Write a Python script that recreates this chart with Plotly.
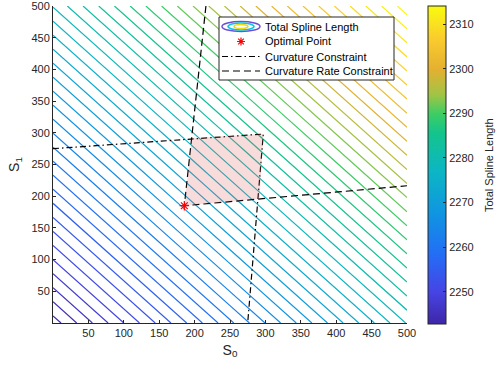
import plotly.graph_objects as go

# ---- data ----
s0_grid = [0, 250, 500]
s1_grid = [0, 250, 500]
# Total spline length on the coarse grid (rows = S1, cols = S0)
total_length = [
    [2242.8, 2260.6, 2278.5],
    [2260.6, 2278.5, 2296.3],
    [2278.5, 2296.3, 2314.1],
]
length_min = 2242.8
length_max = 2314.1
opt_s0 = [185.5]
opt_s1 = [185.0]
curv_s0 = [0, 297, 275]
curv_s1 = [275, 298, 0]
rate_s0 = [216, 185.5, 500]
rate_s1 = [500, 185, 216.5]
region_s0 = [185.5, 196.3, 297, 291.8, 185.5]
region_s1 = [185.0, 291.8, 298, 196.0, 185.0]
axis_ticks = [50, 100, 150, 200, 250, 300, 350, 400, 450, 500]
cbar_ticks = [2250, 2260, 2270, 2280, 2290, 2300, 2310]
legend_labels = ["Total Spline Length", "Optimal Point",
                 "Curvature Constraint", "Curvature Rate Constraint"]

parula = [
    [0.00, "rgb(62,38,168)"],
    [0.10, "rgb(70,68,228)"],
    [0.22, "rgb(35,110,245)"],
    [0.35, "rgb(15,150,225)"],
    [0.48, "rgb(12,182,196)"],
    [0.60, "rgb(20,196,140)"],
    [0.66, "rgb(60,205,100)"],
    [0.72, "rgb(160,196,70)"],
    [0.80, "rgb(228,176,48)"],
    [0.90, "rgb(250,205,45)"],
    [1.00, "rgb(249,251,14)"],
]

font = "Liberation Sans, Arial, Helvetica, sans-serif"
txt = "#262626"
DASHDOT = "6px,3px,1.5px,3px"
DASH = "7px,4px"

W, H = 498, 371
ML, MR, MT, MB = 53, 91, 6, 48
PW, PH = W - ML - MR, H - MT - MB


def px_x(p):  # page pixel -> paper x
    return (p - ML) / PW


def px_y(p):  # page pixel -> paper y
    return (H - MB - p) / PH


fig = go.Figure()
fig.add_trace(go.Contour(
    x=s0_grid, y=s1_grid, z=total_length,
    name="Total Spline Length", showlegend=False, showscale=False,
    colorscale=parula, zauto=False, zmin=length_min, zmax=length_max,
    contours=dict(coloring="lines", start=2243.6, end=2314, size=1.58),
    line=dict(width=1.2),
))
# colour bar (continuous gradient)
fig.add_trace(go.Scatter(
    x=[None], y=[None], mode="markers", showlegend=False, hoverinfo="skip",
    marker=dict(
        color=[length_min, length_max], cmin=length_min, cmax=length_max,
        colorscale=parula, showscale=True, size=0,
        colorbar=dict(
            x=px_x(428.3), xanchor="left", xpad=0,
            y=px_y(164.9), yanchor="middle", ypad=0,
            thickness=18.4, len=318.3, lenmode="pixels",
            outlinewidth=1, outlinecolor=txt,
            tickvals=cbar_ticks, ticks="inside", ticklen=3, tickcolor=txt,
            tickfont=dict(size=11, color=txt, family=font),
        ),
    ),
))
fig.add_trace(go.Scatter(
    x=curv_s0, y=curv_s1, mode="lines", name="Curvature Constraint",
    showlegend=False, line=dict(color="black", width=1.2, dash=DASHDOT),
))
fig.add_trace(go.Scatter(
    x=rate_s0, y=rate_s1, mode="lines", name="Curvature Rate Constraint",
    showlegend=False, line=dict(color="black", width=1.2, dash=DASH),
))
fig.add_trace(go.Scatter(
    x=region_s0, y=region_s1, mode="lines", fill="toself",
    fillcolor="rgba(225,90,90,0.22)", line=dict(width=0),
    showlegend=False, hoverinfo="skip",
))
fig.add_trace(go.Scatter(
    x=opt_s0, y=opt_s1, mode="markers", name="Optimal Point",
    showlegend=False,
    marker=dict(symbol="asterisk-open", size=8, color="red",
                line=dict(color="red", width=1.2)),
))

# ---- legend drawn as layout decoration ----
shapes = []
annotations = []
box_l, box_r, box_t, box_b = 219, 394, 17, 80
shapes.append(dict(type="rect", xref="paper", yref="paper",
                   x0=px_x(box_l), x1=px_x(box_r), y0=px_y(box_b), y1=px_y(box_t),
                   line=dict(color=txt, width=1), fillcolor="white", layer="above"))
rows = [26.5, 41.5, 56.5, 71.0]
icon_l, icon_r, icon_c = 222, 260, 241
# ellipses for contour entry
for (hw, hh, col) in [(19, 5, "rgb(110,80,215)"), (13, 3.5, "rgb(0,200,225)"), (7, 2, "rgb(240,215,20)")]:
    shapes.append(dict(type="circle", xref="paper", yref="paper",
                       xsizemode="pixel", ysizemode="pixel",
                       xanchor=px_x(icon_c), yanchor=px_y(rows[0]),
                       x0=-hw, x1=hw, y0=-hh, y1=hh,
                       line=dict(color=col, width=1.5), layer="above"))
# asterisk for optimal point
r = 4
d = r * 0.707
shapes.append(dict(type="path", xref="paper", yref="paper",
                   xsizemode="pixel", ysizemode="pixel",
                   xanchor=px_x(icon_c), yanchor=px_y(rows[1]),
                   path=(f"M{-r},0 L{r},0 M0,{-r} L0,{r} "
                         f"M{-d},{-d} L{d},{d} M{-d},{d} L{d},{-d}"),
                   line=dict(color="red", width=1.2), layer="above"))
for row, dash in [(rows[2], DASHDOT), (rows[3], DASH)]:
    shapes.append(dict(type="line", xref="paper", yref="paper",
                       x0=px_x(icon_l), x1=px_x(icon_r), y0=px_y(row), y1=px_y(row),
                       line=dict(color="black", width=1.2, dash=dash), layer="above"))
for row, label in zip(rows, legend_labels):
    annotations.append(dict(text=label, xref="paper", yref="paper",
                            x=px_x(263), y=px_y(row), xanchor="left", yanchor="middle",
                            showarrow=False, font=dict(size=11, color="black", family=font)))
# colour bar title
annotations.append(dict(text="Total Spline Length", xref="paper", yref="paper",
                        x=px_x(489), y=px_y(165), xanchor="center", yanchor="middle",
                        textangle=-90, showarrow=False,
                        font=dict(size=11, color=txt, family=font)))

axis_common = dict(
    range=[0, 500], tickvals=axis_ticks, ticks="inside", ticklen=3,
    tickcolor=txt, showline=True, linecolor=txt, linewidth=1,
    showgrid=False, zeroline=False, mirror=False, automargin=False,
    ticklabeloverflow="allow",
    tickfont=dict(size=11, color=txt, family=font),
)
fig.update_layout(
    width=W, height=H,
    margin=dict(l=ML, r=MR, t=MT, b=MB, autoexpand=False),
    paper_bgcolor="white", plot_bgcolor="white",
    font=dict(family=font, size=11, color=txt),
    xaxis=dict(**axis_common, title=dict(text="S<sub>0</sub>", font=dict(size=14), standoff=6)),
    yaxis=dict(**axis_common, title=dict(text="S<sub>1</sub>", font=dict(size=14), standoff=8)),
    showlegend=False,
    shapes=shapes,
    annotations=annotations,
)

fig.write_html("out.html", config={"displayModeBar": False},
               post_script="document.body.style.margin='0';")
